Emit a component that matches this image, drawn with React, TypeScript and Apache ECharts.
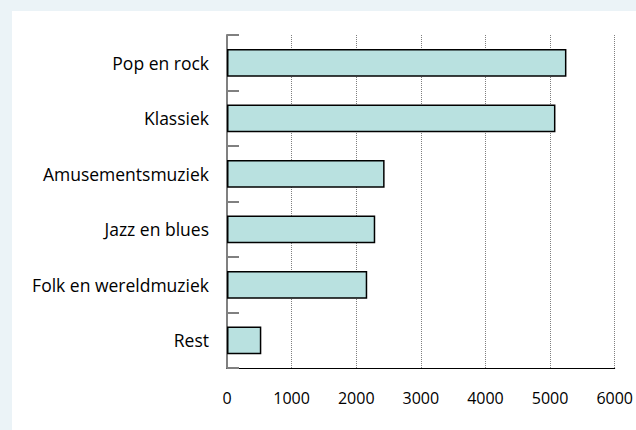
import React, { useEffect, useRef } from "react";
import * as echarts from "echarts";

const categories = [
  "Pop en rock",
  "Klassiek",
  "Amusementsmuziek",
  "Jazz en blues",
  "Folk en wereldmuziek",
  "Rest",
];
const values = [5253, 5083, 2439, 2294, 2170, 531];
const xTicks = [0, 1000, 2000, 3000, 4000, 5000, 6000];

export default function App() {
  const ref = useRef<HTMLDivElement>(null);
  useEffect(() => {
    if (!ref.current) return;
    const chart = echarts.init(ref.current, null, { renderer: "svg" });
    const font = "'Open Sans', Lato, sans-serif";
    chart.setOption({
      animation: false,
      backgroundColor: "#ebf3f7",
      graphic: [
        {
          type: "rect",
          shape: { x: 12, y: 11, width: 640, height: 430 },
          style: { fill: "#ffffff" },
          z: -10,
          silent: true,
        },
      ],
      grid: { left: 227, right: 21, top: 35, bottom: 62 },
      xAxis: {
        type: "value",
        min: xTicks[0],
        max: xTicks[xTicks.length - 1],
        interval: 1000,
        axisLine: { show: true, lineStyle: { color: "#000000", width: 1 } },
        axisTick: { show: false },
        axisLabel: {
          color: "#000000",
          fontSize: 16,
          fontFamily: font,
          margin: 22,
          formatter: (v: number) => String(v),
        },
        splitLine: {
          show: true,
          lineStyle: { color: "#7f7f7f", type: [1, 1], width: 1 },
        },
      },
      yAxis: {
        type: "category",
        data: categories,
        inverse: true,
        axisLine: { show: true, lineStyle: { color: "#808080", width: 2 } },
        axisTick: {
          show: true,
          inside: true,
          length: 12,
          lineStyle: { color: "#808080", width: 2 },
        },
        axisLabel: {
          color: "#000000",
          fontSize: 17.5,
          fontFamily: font,
          margin: 18,
        },
        splitLine: { show: false },
      },
      series: [
        {
          type: "bar",
          data: values,
          barWidth: "50%",
          itemStyle: {
            color: "#b9e1e0",
            borderColor: "#000000",
            borderWidth: 1.5,
          },
        },
      ],
    });
    return () => chart.dispose();
  }, []);
  return (
    <div
      ref={ref}
      style={{ position: "fixed", left: 0, top: 0, width: 636, height: 430 }}
    />
  );
}
